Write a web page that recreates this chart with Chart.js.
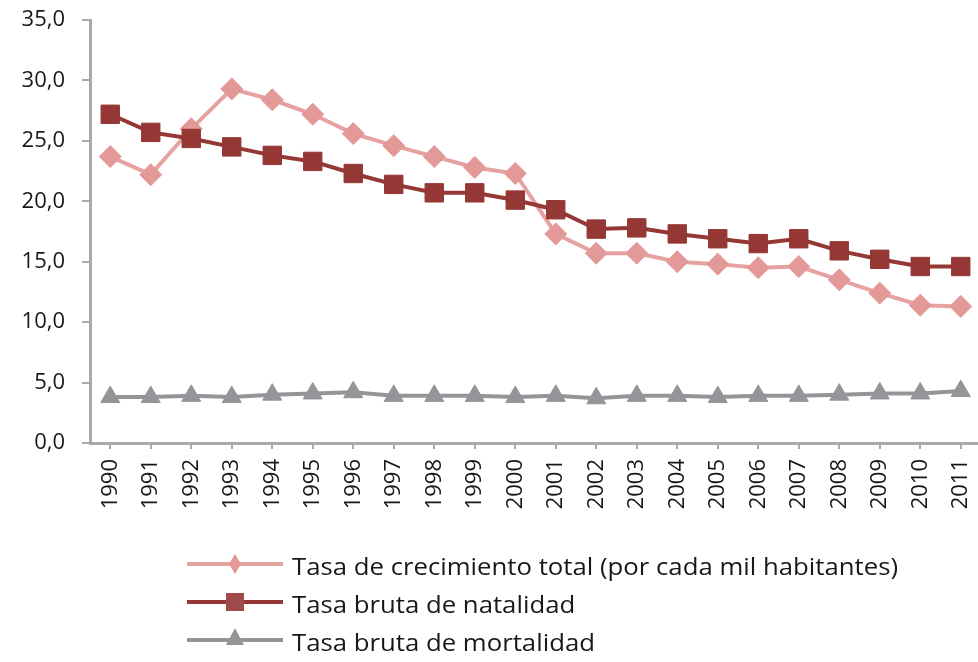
<!DOCTYPE html>
<html><head><meta charset="utf-8">
<script src="https://cdn.jsdelivr.net/npm/chart.js@4/dist/chart.umd.min.js"></script>
<style>
html,body{margin:0;padding:0;background:#fff;overflow:hidden;width:978px;height:662px}
#wrap{position:absolute;left:0;top:0;width:995px;height:662px}
</style></head>
<body><div id="wrap"><canvas id="c"></canvas></div>
<script>
const years = ['1990','1991','1992','1993','1994','1995','1996','1997','1998','1999','2000','2001','2002','2003','2004','2005','2006','2007','2008','2009','2010','2011'];
const crecimiento = [23.7,22.2,26.0,29.3,28.4,27.2,25.6,24.6,23.7,22.8,22.3,17.3,15.7,15.7,15.0,14.8,14.5,14.6,13.5,12.4,11.4,11.3];
const natalidad   = [27.2,25.7,25.2,24.5,23.8,23.3,22.3,21.4,20.7,20.7,20.1,19.3,17.7,17.8,17.3,16.9,16.5,16.9,15.9,15.2,14.6,14.6];
const mortalidad  = [3.8,3.8,3.9,3.8,4.0,4.1,4.2,3.9,3.9,3.9,3.8,3.9,3.7,3.9,3.9,3.8,3.9,3.9,4.0,4.1,4.1,4.3];
const seriesNames = ['Tasa de crecimiento total (por cada mil habitantes)','Tasa bruta de natalidad','Tasa bruta de mortalidad'];
const yMin = 0, yMax = 35, yStep = 5;

const PINK = '#e6a2a1', PINK_M = '#e39997';
const RED = '#953735';
const GRAY = '#939598';
const AXIS = '#a7a9ac';
const FONT = '"Open Sans", "Noto Sans", sans-serif';

const legendPlugin = {
  id: 'customLegend',
  afterDraw(chart) {
    const ctx = chart.ctx;
    const rows = [564, 602, 640];
    const colors = [[PINK, PINK_M], [RED, '#a04b49'], [GRAY, GRAY]];
    ctx.save();
    ctx.font = '23px ' + FONT;
    const w0 = ctx.measureText(seriesNames[0]).width;
    const sx = 606 / w0;
    chart.data.datasets.forEach((ds, i) => {
      const y = rows[i];
      ctx.strokeStyle = colors[i][0];
      ctx.lineWidth = 4;
      ctx.beginPath(); ctx.moveTo(187, y); ctx.lineTo(283, y); ctx.stroke();
      ctx.fillStyle = colors[i][1];
      ctx.beginPath();
      if (i === 0) {
        ctx.moveTo(235, y - 10); ctx.lineTo(241, y); ctx.lineTo(235, y + 10); ctx.lineTo(229, y);
      } else if (i === 1) {
        ctx.rect(226, y - 9, 18, 18);
      } else {
        ctx.moveTo(235, y - 12); ctx.lineTo(244, y + 5); ctx.lineTo(226, y + 5);
      }
      ctx.closePath(); ctx.fill();
      ctx.save();
      ctx.translate(292, y + 4);
      ctx.scale(sx, 1);
      ctx.fillStyle = '#1a1718';
      ctx.textBaseline = 'middle';
      ctx.textAlign = 'left';
      ctx.fillText(seriesNames[i], 0, 0);
      ctx.restore();
    });
    ctx.restore();
  }
};

new Chart(document.getElementById('c'), {
  type: 'line',
  data: {
    labels: years,
    datasets: [
      {label: seriesNames[0], data: crecimiento, borderColor: PINK, backgroundColor: PINK_M, pointBorderColor: PINK_M,
       borderWidth: 4, pointStyle: 'rectRot', pointRadius: 11, pointBorderWidth: 1, order: 2, tension: 0},
      {label: seriesNames[1], data: natalidad, borderColor: RED, backgroundColor: RED, pointBorderColor: RED,
       borderWidth: 4, pointStyle: 'rect', pointRadius: 13, pointBorderWidth: 1, order: 1, tension: 0},
      {label: seriesNames[2], data: mortalidad, borderColor: GRAY, backgroundColor: GRAY, pointBorderColor: GRAY,
       borderWidth: 4, pointStyle: 'triangle', pointRadius: 11, pointBorderWidth: 1, order: 3, tension: 0}
    ]
  },
  options: {
    responsive: true, maintainAspectRatio: false, animation: false,
    layout: {padding: {left: 0, right: 8, top: 20, bottom: 130}},
    plugins: {legend: {display: false}, tooltip: {enabled: false}},
    scales: {
      x: {
        type: 'category', offset: true,
        grid: {display: true, drawOnChartArea: false, drawTicks: true, tickLength: 6, color: AXIS, lineWidth: 2, offset: false},
        border: {display: true, color: AXIS, width: 3},
        ticks: {minRotation: 90, maxRotation: 90, autoSkip: false, padding: 10, color: '#1a1718', font: {family: FONT, size: 22}},
        afterFit: s => { s.height = 89; s.paddingLeft = 0; s.paddingRight = 0; }
      },
      y: {
        min: yMin, max: yMax,
        grid: {display: true, drawOnChartArea: false, drawTicks: true, tickLength: 8, color: AXIS, lineWidth: 2},
        border: {display: true, color: AXIS, width: 3},
        ticks: {stepSize: yStep, padding: 17, color: '#1a1718', font: {family: FONT, size: 22},
                callback: v => Number(v).toFixed(1).replace('.', ',')},
        afterFit: s => { s.width = 90; s.paddingTop = 0; s.paddingBottom = 0; }
      }
    }
  },
  plugins: [legendPlugin]
});
</script>
</body></html>
